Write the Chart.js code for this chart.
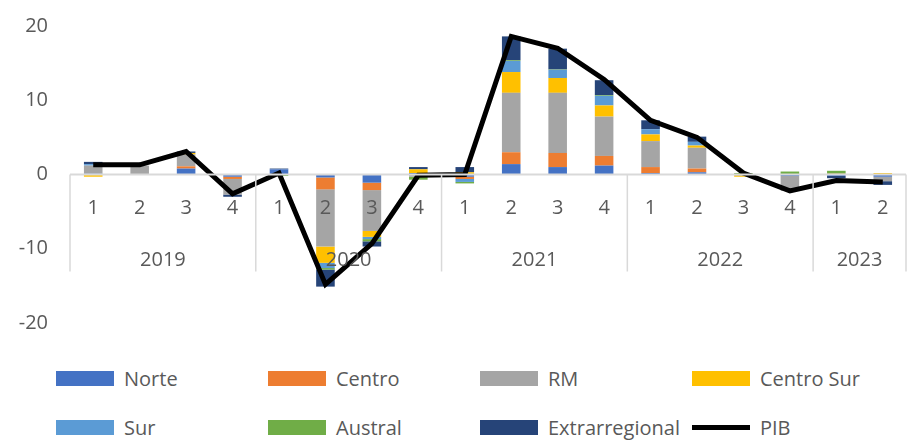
<!DOCTYPE html>
<html><head><meta charset="utf-8">
<script src="https://cdn.jsdelivr.net/npm/chart.js@4"></script>
<style>
body{margin:0;background:#fff;font-family:"Open Sans",sans-serif;}
#wrap{width:914px;height:350px;}
#legend{display:grid;grid-template-columns:212px 212px 212px 212px;margin-left:56px;row-gap:22px;margin-top:15px;color:#595959;font-size:20px;}
#legend div{display:flex;align-items:center;}
#legend span.b{display:inline-block;width:58px;height:15px;margin-right:10px;}
#legend span.l{display:inline-block;width:58px;height:5px;margin-right:10px;background:#000;}
</style></head><body>
<div id="wrap"><canvas id="c" width="914" height="350"></canvas></div>
<div id="legend"></div>
<script>
// Trimestres y años
const quarters = ['1','2','3','4','1','2','3','4','1','2','3','4','1','2','3','4','1','2'];
const years = ['2019','2020','2021','2022','2023'];
const yearSizes = [4, 4, 4, 4, 2];

// Incidencias por región
const norte    = [0.1, 0, 0.8,-0.3, 0.7,-0.4,-1.1, 0.2,-0.3, 1.4, 1.0, 1.2, 0.2, 0.3,-0.1,-0.2,-0.2,-0.3];
const centro   = [0, 0, 0.3,-0.3, 0,-1.6,-1.0, 0,-0.3, 1.6, 1.9, 1.3, 0.8, 0.5, 0, 0, 0.1, 0];
const rm       = [1.1, 1.2, 1.6,-2.1, 0,-7.7,-5.5,-0.3, 0, 8.0, 8.1, 5.3, 3.5, 2.8, 0,-2.0, 0,-0.6];
const centroSur= [-0.3, 0, 0.2, 0, 0,-2.2,-0.8, 0.5, 0.3, 2.8, 2.0, 1.5, 0.9, 0.3,-0.2, 0, 0, 0.2];
const sur      = [0.2, 0, 0, 0, 0,-0.7,-0.3, 0,-0.4, 1.5, 1.1, 1.3, 0.7, 0.5, 0, 0, 0, 0];
const austral  = [0, 0, 0, 0,-0.2,-0.2,-0.3,-0.4,-0.2, 0.1, 0.05, 0.1, 0, 0, 0.2, 0.4, 0.4, 0];
const extra    = [0.3, 0, 0.2,-0.3, 0.1,-2.3,-0.7, 0.3, 0.7, 3.2, 2.8, 2.0, 1.2, 0.7, 0, 0,-0.3,-0.5];
const pib      = [1.3, 1.3, 3.1,-2.6, 0.2,-14.8,-9.3,-0.1, 0, 18.6, 17.0, 12.8, 7.3, 5.0, 0.2,-2.2,-0.8,-1.0];

const grey = '#595959';
const font = {family: '"Open Sans", sans-serif', size: 20};

const series = [
  ['Norte', norte, '#4472C4'],
  ['Centro', centro, '#ED7D31'],
  ['RM', rm, '#A5A5A5'],
  ['Centro Sur', centroSur, '#FFC000'],
  ['Sur', sur, '#5B9BD5'],
  ['Austral', austral, '#70AD47'],
  ['Extrarregional', extra, '#264478']
];

const datasets = series.map(s => ({
  type: 'bar', label: s[0], data: s[1], backgroundColor: s[2],
  barPercentage: 0.4, categoryPercentage: 1, stack: 's', order: 2
}));
datasets.push({
  type: 'line', label: 'PIB', data: pib, borderColor: '#000', borderWidth: 5,
  pointRadius: 0, tension: 0, order: 1
});

// Ejes de categorías en dos niveles
const axisPlugin = {
  id: 'axisPlugin',
  afterDatasetsDraw(chart) {
    const ctx = chart.ctx, x = chart.scales.x, y = chart.scales.y;
    const y0 = y.getPixelForValue(0);
    const step = x.getPixelForValue(1) - x.getPixelForValue(0);
    ctx.save();
    ctx.strokeStyle = '#D9D9D9';
    ctx.lineWidth = 2;
    ctx.beginPath();
    ctx.moveTo(chart.chartArea.left, y0);
    ctx.lineTo(chart.chartArea.right, y0);
    ctx.stroke();
    ctx.fillStyle = grey;
    ctx.font = '20px "Open Sans", sans-serif';
    ctx.textAlign = 'center';
    ctx.textBaseline = 'middle';
    quarters.forEach((q, i) => ctx.fillText(q, x.getPixelForValue(i), y0 + 34));
    let start = 0;
    const bounds = [];
    years.forEach((yr, k) => {
      const a = x.getPixelForValue(start) - step / 2;
      const b = x.getPixelForValue(start + yearSizes[k] - 1) + step / 2;
      ctx.fillText(yr, (a + b) / 2, y0 + 86);
      bounds.push(a);
      if (k === years.length - 1) bounds.push(b);
      start += yearSizes[k];
    });
    ctx.lineWidth = 1.5;
    bounds.forEach(bx => {
      ctx.beginPath();
      ctx.moveTo(bx, y0);
      ctx.lineTo(bx, y0 + 97);
      ctx.stroke();
    });
    ctx.restore();
  }
};

new Chart(document.getElementById('c'), {
  data: {labels: quarters, datasets: datasets},
  options: {
    responsive: false, animation: false,
    layout: {padding: {top: -3, right: 8, bottom: 27, left: 0}},
    plugins: {legend: {display: false}, tooltip: {enabled: false}},
    scales: {
      x: {display: false, stacked: true, offset: true},
      y: {
        stacked: true, min: -20, max: 20,
        ticks: {stepSize: 10, color: grey, font: font, padding: 14},
        grid: {display: false}, border: {display: false},
        afterFit(s) { s.width = 70; }
      }
    }
  },
  plugins: [axisPlugin]
});

// Leyenda
const legend = document.getElementById('legend');
series.forEach(s => {
  const d = document.createElement('div');
  d.innerHTML = '<span class="b" style="background:' + s[2] + '"></span>' + s[0];
  legend.appendChild(d);
});
const p = document.createElement('div');
p.innerHTML = '<span class="l"></span>PIB';
legend.appendChild(p);
</script>
</body></html>
